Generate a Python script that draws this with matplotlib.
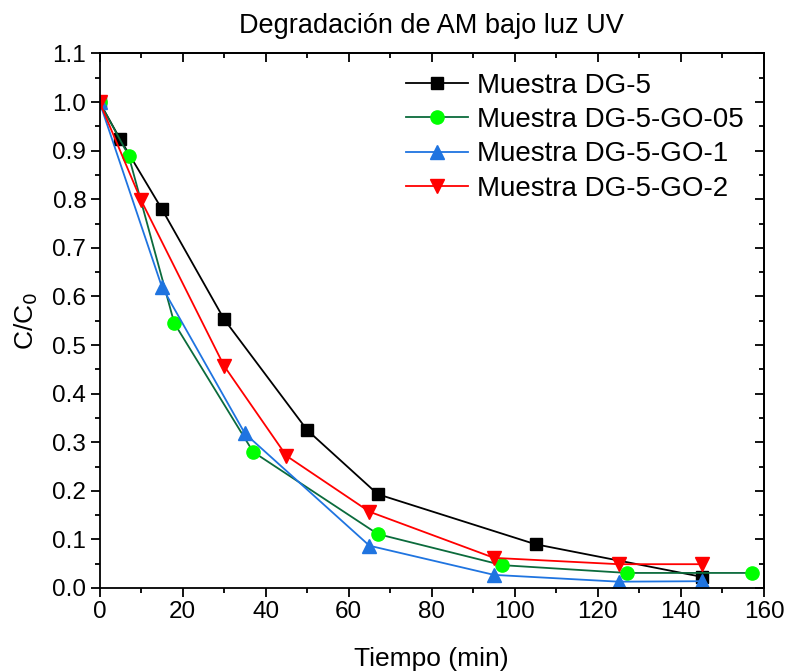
import matplotlib
matplotlib.use("Agg")
import matplotlib.pyplot as plt
from matplotlib.ticker import MultipleLocator

plt.rcParams['font.family'] = ['Liberation Sans', 'DejaVu Sans']

# Data
x_dg5 = [0, 5, 15, 30, 50, 67, 105, 145]
y_dg5 = [1.0, 0.923, 0.780, 0.553, 0.325, 0.193, 0.090, 0.023]

x_go05 = [0, 7, 18, 37, 67, 97, 127, 157]
y_go05 = [1.0, 0.890, 0.545, 0.280, 0.111, 0.047, 0.031, 0.031]

x_go1 = [0, 15, 35, 65, 95, 125, 145]
y_go1 = [1.0, 0.620, 0.318, 0.087, 0.027, 0.013, 0.014]

x_go2 = [0, 10, 30, 45, 65, 95, 125, 145]
y_go2 = [1.0, 0.798, 0.457, 0.272, 0.157, 0.062, 0.049, 0.049]

labels = ["Muestra DG-5", "Muestra DG-5-GO-05", "Muestra DG-5-GO-1", "Muestra DG-5-GO-2"]

fig = plt.figure(figsize=(7.85, 6.72), dpi=100)
ax = fig.add_axes([0.1268, 0.125, 0.9732 - 0.1268, 0.9204 - 0.125])

lw = 1.3
ax.plot(x_dg5, y_dg5, color='black', lw=lw, marker='s', ms=8.5, mfc='black', mec='black', label=labels[0])
ax.plot(x_go05, y_go05, color='#0b6b3c', lw=lw, marker='o', ms=9.5, mfc='#00ff00', mec='#00ff00', label=labels[1])
ax.plot(x_go1, y_go1, color='#1f74e0', lw=lw, marker='^', ms=10.5, mfc='#1f74e0', mec='#1f74e0', label=labels[2])
ax.plot(x_go2, y_go2, color='#ff0000', lw=lw, marker='v', ms=10.5, mfc='#ff0000', mec='#ff0000', label=labels[3])

ax.set_xlim(0, 160)
ax.set_ylim(0, 1.1)
ax.xaxis.set_major_locator(MultipleLocator(20))
ax.xaxis.set_minor_locator(MultipleLocator(10))
ax.yaxis.set_major_locator(MultipleLocator(0.1))
ax.yaxis.set_minor_locator(MultipleLocator(0.05))
ax.yaxis.set_major_formatter(matplotlib.ticker.FormatStrFormatter('%.1f'))

for s in ax.spines.values():
    s.set_linewidth(1.3)

ax.tick_params(which='both', direction='out', top=False, right=False, width=1.3, labelsize=17.5, pad=3)
ax.tick_params(which='major', length=6.5)
ax.tick_params(which='minor', length=3.5)

# inward ticks on top and right
ax_top = ax.secondary_xaxis('top')
ax_top.xaxis.set_major_locator(MultipleLocator(20))
ax_top.xaxis.set_minor_locator(MultipleLocator(10))
ax_top.tick_params(which='both', direction='in', labeltop=False, width=1.3)
ax_top.tick_params(which='major', length=6.5)
ax_top.tick_params(which='minor', length=3.5)
ax_right = ax.secondary_yaxis('right')
ax_right.yaxis.set_major_locator(MultipleLocator(0.1))
ax_right.yaxis.set_minor_locator(MultipleLocator(0.05))
ax_right.tick_params(which='both', direction='in', labelright=False, width=1.3)
ax_right.tick_params(which='major', length=6.5)
ax_right.tick_params(which='minor', length=3.5)
for sa in (ax_top, ax_right):
    for s in sa.spines.values():
        s.set_linewidth(1.3)

ax.set_xlabel("Tiempo (min)", fontsize=19, labelpad=17)
ax.set_ylabel("C/C$_0$", fontsize=19, labelpad=9)
ax.set_title("Degradación de AM bajo luz UV", fontsize=19.5, pad=15)

leg = ax.legend(loc='upper right', frameon=False, fontsize=20, handlelength=2.25,
                borderaxespad=0.0, labelspacing=0.3, handletextpad=0.3,
                bbox_to_anchor=(0.986, 0.985))

fig.savefig("out.png", dpi=100)
